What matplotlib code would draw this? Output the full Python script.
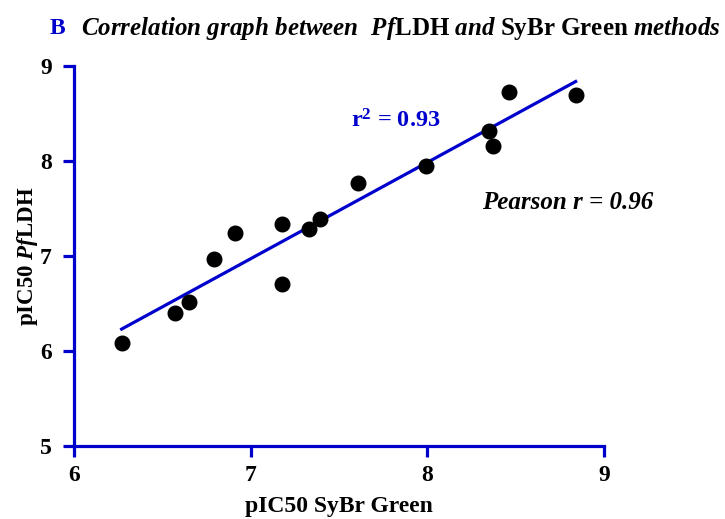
import matplotlib
matplotlib.use('Agg')
import matplotlib.pyplot as plt
import numpy as np

# pIC50 values for each compound from the two assays
sybr_green = [6.27, 6.57, 6.65, 6.79, 6.91, 7.18, 7.18, 7.33, 7.39, 7.61, 7.99, 8.35, 8.37, 8.46, 8.84]
pf_ldh = [6.08, 6.40, 6.52, 6.97, 7.24, 7.34, 6.71, 7.28, 7.39, 7.77, 7.95, 8.32, 8.16, 8.73, 8.69]
x_ticks = [6, 7, 8, 9]
y_ticks = [5, 6, 7, 8, 9]
r_squared = 0.93
pearson_r = 0.96

plt.rcParams['font.family'] = ['Liberation Serif', 'DejaVu Serif']
plt.rcParams['font.weight'] = 'bold'
plt.rcParams['mathtext.fontset'] = 'custom'
plt.rcParams['mathtext.rm'] = 'Liberation Serif:bold'
plt.rcParams['mathtext.bf'] = 'Liberation Serif:bold'
plt.rcParams['mathtext.it'] = 'Liberation Serif:italic:bold'

blue = '#0000cc'

fig = plt.figure(figsize=(7.25, 5.19), dpi=100)
ax = fig.add_axes([0.102, 0.1407, 0.731, 0.7321])

x = np.array(sybr_green)
y = np.array(pf_ldh)

# linear regression line over the data range
slope, intercept = np.polyfit(x, y, 1)
xs = np.array([x.min(), x.max()])
ax.plot(xs, slope * xs + intercept, color=blue, lw=2.3, zorder=2)

ax.plot(x, y, 'o', color='black', markersize=10.5, zorder=3)

ax.set_xlim(6, 9)
ax.set_ylim(5, 9)
ax.set_xticks(x_ticks)
ax.set_yticks(y_ticks)
for s in ['top', 'right']:
    ax.spines[s].set_visible(False)
for s in ['left', 'bottom']:
    ax.spines[s].set_color(blue)
    ax.spines[s].set_linewidth(2.3)
ax.tick_params(axis='both', colors=blue, width=2.3, length=8, labelcolor='black',
               labelsize=17)
ax.tick_params(axis='x', pad=6)
ax.tick_params(axis='y', pad=8)
for lab in ax.get_xticklabels() + ax.get_yticklabels():
    lab.set_fontweight('bold')

ax.set_xlabel('pIC50 SyBr Green', fontsize=17, fontweight='bold', labelpad=7)
ax.set_ylabel(r'pIC50 $\mathit{Pf}$LDH', fontsize=16.5, fontweight='bold', labelpad=0)

ax.text(7.57, 8.42, r'r$^2$ = %.2f' % r_squared, color=blue, fontsize=17.5,
        fontweight='bold', ha='left', va='center')
ax.text(8.31, 7.56, 'Pearson r = %.2f' % pearson_r, color='black', fontsize=18,
        fontweight='bold', style='italic', ha='left', va='center')

fig.text(0.069, 0.945, 'B', color=blue, fontsize=17, fontweight='bold', va='center')
fig.text(0.112, 0.945,
         r'$\mathit{Correlation\ graph\ between\ \ Pf}$LDH $\mathit{and}$ SyBr Green $\mathit{methods}$',
         color='black', fontsize=18, va='center')

fig.savefig('out.png', dpi=100)
